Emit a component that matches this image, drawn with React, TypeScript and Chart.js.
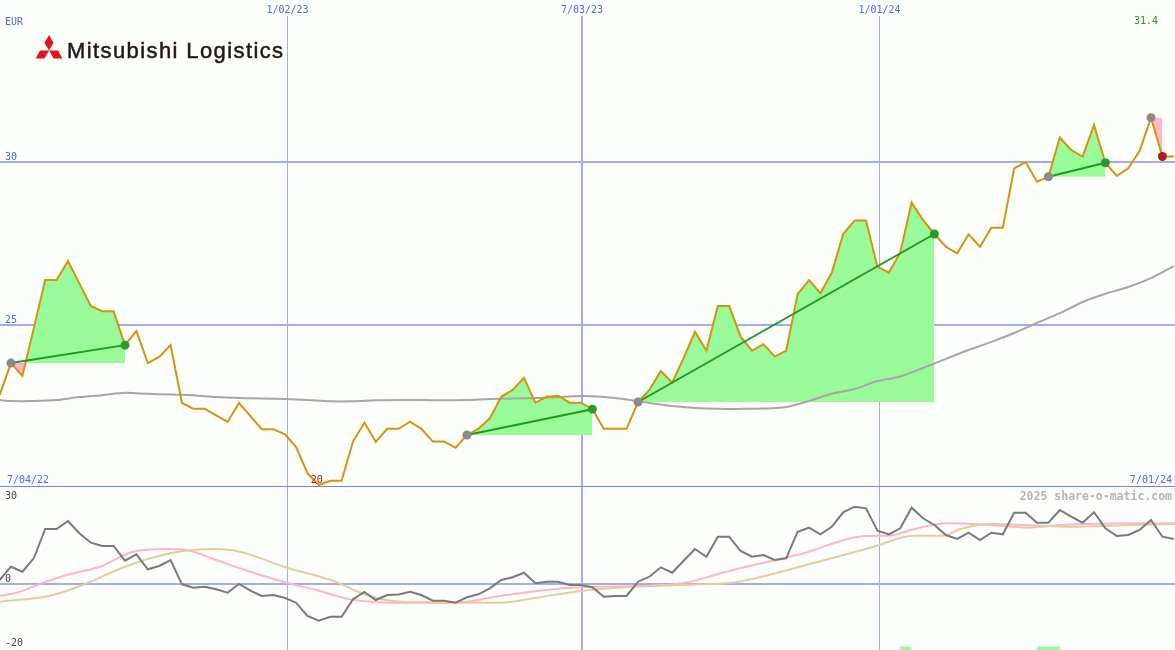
import React, { useEffect, useRef } from 'react';
import { Chart, registerables } from 'chart.js';

Chart.register(...registerables);

// ---------------- data ----------------
const priceFirstWeek = -1;
const priceValues = [
  22.86, 23.84, 23.45, 24.91, 26.38, 26.38, 26.96, 26.28, 25.59, 25.43, // -1..8
  25.43, 24.39, 24.82, 23.84, 24.03, 24.39, 22.62, 22.44, 22.44, 22.24, // 9..18
  22.04, 22.62, 22.22, 21.82, 21.82, 21.67, 21.28, 20.47, 20.11, 20.24, // 19..28
  20.24, 21.44, 22.02, 21.43, 21.83, 21.83, 22.05, 21.83, 21.44, 21.44, // 29..38
  21.25, 21.64, 21.83, 22.15, 22.81, 23.02, 23.39, 22.63, 22.81, 22.84, // 39..48
  22.63, 22.63, 22.43, 21.83, 21.83, 21.83, 22.65, 23.02, 23.6, 23.24,  // 49..58
  23.99, 24.8, 24.22, 25.59, 25.59, 24.65, 24.22, 24.42, 24.04, 24.22,  // 59..68
  25.95, 26.38, 25.98, 26.61, 27.79, 28.2, 28.2, 26.79, 26.61, 27.22,   // 69..78
  28.75, 28.22, 27.79, 27.4, 27.2, 27.78, 27.4, 27.98, 27.98, 29.8,     // 79..88
  29.99, 29.39, 29.54, 30.74, 30.36, 30.16, 31.13, 29.97, 29.57, 29.8,  // 89..98
  30.33, 31.35, 30.16, 30.16,                                           // 99..102
];

const maWeeks = [
  -1, 0, 2, 4, 6, 8, 10, 12, 14, 16, 18, 20, 22, 24, 26, 28, 30, 32, 34, 36, 38, 40, 42, 44, 46, 48,
  50, 52, 54, 56, 58, 60, 62, 64, 66, 68, 70, 72, 74, 76, 78, 80, 82, 84, 86, 88, 90, 92, 94, 96, 98, 100, 102,
];
const maValues = [
  22.71, 22.68, 22.68, 22.71, 22.8, 22.86, 22.93, 22.9, 22.88, 22.86, 22.8, 22.77, 22.76, 22.74, 22.71, 22.67,
  22.67, 22.7, 22.71, 22.71, 22.7, 22.71, 22.74, 22.76, 22.77, 22.8, 22.83, 22.8, 22.73, 22.62, 22.53, 22.47,
  22.44, 22.44, 22.45, 22.5, 22.68, 22.9, 23.05, 23.29, 23.43, 23.69, 23.97, 24.24, 24.49, 24.76, 25.07, 25.37,
  25.71, 25.96, 26.17, 26.44, 26.81,
];

const trendStartWeeks = [0, 40, 55, 91, 100];
const trendEndWeeks = [10, 51, 81, 96, 101];

const momentumValues = [
  1.35, 5.83, 4.15, 8.66, 18.54, 18.54, 21.23, 17.09, 13.92, 12.81,      // -1..8
  12.81, 7.85, 10.01, 4.95, 6.07, 8.09, -0.1, -1.25, -0.91, -1.79,       // 9..18
  -2.93, 0.0, -2.26, -4.04, -3.71, -4.62, -6.3, -10.79, -12.37, -11.02,  // 19..28
  -11.02, -5.16, -2.7, -5.39, -3.71, -3.54, -2.6, -3.71, -5.63, -5.63,   // 29..38
  -6.3, -4.48, -3.47, -1.45, 1.35, 2.26, 3.81, 0.24, 0.78, 0.78,         // 39..48
  -0.34, -0.34, -1.11, -4.28, -4.04, -4.04, 0.78, 2.46, 5.63, 3.81,      // 49..58
  7.85, 11.8, 9.2, 15.94, 15.94, 11.12, 9.2, 9.77, 8.09, 8.66,           // 59..68
  17.63, 18.98, 16.75, 19.31, 24.17, 26.05, 25.51, 17.96, 16.75, 18.77,  // 69..78
  25.72, 22.14, 19.89, 16.51, 15.17, 17.29, 14.83, 17.29, 16.75, 24.03,  // 79..88
  24.03, 20.66, 20.66, 24.94, 22.68, 20.66, 24.17, 18.77, 16.18, 16.51,  // 89..98
  18.2, 21.57, 15.94, 15.17,                                             // 99..102
];

const pinkWeeks = [-1, 0.8, 1.9, 4.9, 7.8, 10.7, 13.7, 15.4, 18, 21, 24.2, 26.8, 29.7, 34.1, 39, 42.9, 46.4, 49.9, 54.6, 58.9, 63.3, 69.2, 75.1, 77.1, 78.9, 82.1, 86.8, 89.1, 92, 98.4, 102.2];
const pinkValues = [-4.04, -2.6, -0.91, 3.03, 5.83, 10.89, 11.8, 11.46, 8.09, 4.15, 0.44, -2.02, -5.16, -6.3, -6.3, -4.04, -2.26, -1.11, -0.67, 0.24, 4.72, 10.01, 16.18, 16.28, 18.2, 20.46, 19.65, 18.98, 19.89, 20.46, 20.46];

const tanWeeks = [-1, 3.4, 6.3, 9.3, 12.2, 15.1, 17.7, 20.1, 23.9, 28.3, 31.2, 34.1, 37, 42.9, 45.8, 50.1, 54.6, 60.4, 63.3, 69.2, 75.9, 79.1, 81.8, 83.2, 85.9, 92.6, 98.4, 102.2];
const tanValues = [-5.97, -3.94, -0.34, 4.72, 8.66, 11.12, 11.8, 10.89, 5.83, 1.01, -3.71, -5.97, -6.17, -6.3, -4.82, -2.26, -0.91, -0.1, 0.44, 5.83, 12.81, 16.28, 16.28, 18.44, 20.22, 19.31, 19.89, 20.22];

const signalStartWeeks = [78, 90];
const signalEndWeeks = [79, 92];
const signalLevel = -21.1;

const xGridWeeks = [24.25, 50.09, 76.18];
const xTickLabels = ['1/02/23', '7/03/23', '1/01/24'];
const rangeLabels = ['7/04/22', '7/01/24'];
const upperYTicks = [25, 30];
const lowerYTicks = [30, 0, -20];
const currencyLabel = 'EUR';
const maxPriceLabel = '31.4';
const minPriceLabel = '20';
const watermark = '2025 share-o-matic.com';
const companyName = 'Mitsubishi Logistics';

// ---------------- styles ----------------
const W = 1175;
const UP_H = 486;
const LOW_H = 164;
const X_MIN = -0.965;
const X_MAX = 102.105;
const UP_Y_MIN = 20.08;
const UP_Y_MAX = 34.46;
const LOW_Y_MIN = -22.24;
const LOW_Y_MAX = 33.03;

const BG = '#fcfefb';
const GRID = '#a3abf3';
const SEP = '#7383f0';
const LABEL_BLUE = '#5463f0';
const FONT = '"DejaVu Sans Mono", monospace';
const PRICE = '#d9920b';
const MA = '#a6a6a6';
const TREND = '#229922';
const DOT_GREEN = '#2a9a2a';
const DOT_GREY = '#8a8a8a';
const DOT_RED = '#b01c1c';
const FILL_GREEN = '#98fa98';
const FILL_PINK = '#ffb8c8';

const priceAt = (w: number) => priceValues[w - priceFirstWeek];

function upperConfig(): any {
  const pricePts = priceValues.map((v, i) => ({ x: priceFirstWeek + i, y: v }));
  const fills = trendStartWeeks.map((s, i) => {
    const e = trendEndWeeks[i];
    return {
      data: pricePts.filter((p) => p.x >= s && p.x <= e),
      borderWidth: 0,
      borderColor: 'transparent',
      pointRadius: 0,
      fill: { target: { value: priceAt(s) }, above: FILL_GREEN, below: FILL_PINK },
      order: 4,
    };
  });
  const trendPts: any[] = [];
  const dotPts: any[] = [];
  const dotColors: string[] = [];
  trendStartWeeks.forEach((s, i) => {
    const e = trendEndWeeks[i];
    const up = priceAt(e) >= priceAt(s);
    if (up) {
      trendPts.push({ x: s, y: priceAt(s) }, { x: e, y: priceAt(e) }, { x: e, y: null });
    }
    dotPts.push({ x: s, y: priceAt(s) });
    dotColors.push(DOT_GREY);
    dotPts.push({ x: e, y: priceAt(e) });
    dotColors.push(up ? DOT_GREEN : DOT_RED);
  });

  const labelPlugin = {
    id: 'upperLabels',
    afterDraw(chart: any) {
      const { ctx } = chart;
      const x = chart.scales.x;
      const y = chart.scales.y;
      ctx.save();
      ctx.font = `10px ${FONT}`;
      ctx.textBaseline = 'alphabetic';
      ctx.fillStyle = LABEL_BLUE;
      ctx.textAlign = 'center';
      xTickLabels.forEach((l, i) => ctx.fillText(l, x.getPixelForValue(xGridWeeks[i]), 13));
      ctx.textAlign = 'left';
      upperYTicks.forEach((v) => ctx.fillText(String(v), 5, y.getPixelForValue(v) - 2));
      ctx.fillText(currencyLabel, 5, 25);
      ctx.fillText(rangeLabels[0], 7, 483);
      ctx.textAlign = 'right';
      ctx.fillText(rangeLabels[1], 1172, 483);
      ctx.fillStyle = '#229922';
      ctx.fillText(maxPriceLabel, 1158, 24);
      let mi = 0;
      priceValues.forEach((v, i) => { if (v < priceValues[mi]) mi = i; });
      ctx.fillStyle = '#a01818';
      ctx.textAlign = 'center';
      ctx.fillText(minPriceLabel, x.getPixelForValue(priceFirstWeek + mi) - 2, y.getPixelForValue(priceValues[mi]) - 2);
      ctx.restore();
    },
  };

  return {
    type: 'line',
    data: {
      datasets: [
        {
          data: dotPts,
          showLine: false,
          pointRadius: 4.5,
          pointBackgroundColor: dotColors,
          pointBorderWidth: 0,
          borderWidth: 0,
          order: 0,
        },
        {
          data: trendPts,
          borderColor: TREND,
          borderWidth: 2,
          pointRadius: 0,
          spanGaps: false,
          fill: false,
          order: 1,
        },
        {
          data: pricePts,
          borderColor: PRICE,
          borderWidth: 2,
          pointRadius: 0,
          fill: false,
          order: 2,
        },
        {
          data: maWeeks.map((w, i) => ({ x: w, y: maValues[i] })),
          borderColor: MA,
          borderWidth: 2,
          pointRadius: 0,
          tension: 0.3,
          fill: false,
          order: 3,
        },
        ...fills,
      ],
    },
    options: {
      animation: false,
      responsive: false,
      devicePixelRatio: 1,
      layout: { autoPadding: false, padding: { top: 16, left: 0, right: 0, bottom: 0 } },
      plugins: { legend: { display: false }, tooltip: { enabled: false } },
      scales: {
        x: {
          type: 'linear',
          min: X_MIN,
          max: X_MAX,
          afterBuildTicks: (s: any) => { s.ticks = xGridWeeks.map((v) => ({ value: v })); },
          afterFit: (s: any) => { s.height = 0; },
          ticks: { display: false },
          grid: { color: GRID, lineWidth: (c: any) => (c.index === 1 ? 2 : 1), drawTicks: false },
          border: { display: false },
        },
        y: {
          type: 'linear',
          min: UP_Y_MIN,
          max: UP_Y_MAX,
          afterBuildTicks: (s: any) => { s.ticks = upperYTicks.map((v) => ({ value: v })); },
          afterFit: (s: any) => { s.width = 0; },
          ticks: { display: false },
          grid: { color: GRID, lineWidth: 2, drawTicks: false },
          border: { display: false },
        },
      },
    },
    plugins: [labelPlugin],
  };
}

function lowerConfig(): any {
  const signals = signalStartWeeks.map((s, i) => ({
    data: [{ x: s, y: signalLevel }, { x: signalEndWeeks[i], y: signalLevel }],
    borderWidth: 0,
    borderColor: 'transparent',
    pointRadius: 0,
    fill: { target: { value: LOW_Y_MIN }, above: FILL_GREEN, below: FILL_GREEN },
    order: 5,
  }));
  const lowerLabelDy = [4, -2, 3];
  const labelPlugin = {
    id: 'lowerLabels',
    afterDraw(chart: any) {
      const { ctx } = chart;
      const y = chart.scales.y;
      ctx.save();
      ctx.font = `10px ${FONT}`;
      ctx.textBaseline = 'alphabetic';
      ctx.fillStyle = '#484848';
      ctx.textAlign = 'left';
      lowerYTicks.forEach((v, i) => ctx.fillText(String(v), 5, y.getPixelForValue(v) + lowerLabelDy[i]));
      ctx.font = `bold 11.5px ${FONT}`;
      ctx.fillStyle = '#b5b5b5';
      ctx.textAlign = 'right';
      ctx.fillText(watermark, 1172, 14);
      ctx.restore();
    },
  };
  return {
    type: 'line',
    data: {
      datasets: [
        {
          data: momentumValues.map((v, i) => ({ x: priceFirstWeek + i, y: v })),
          borderColor: '#7a7a7a',
          borderWidth: 2,
          pointRadius: 0,
          fill: false,
          order: 0,
        },
        {
          data: tanWeeks.map((w, i) => ({ x: w, y: tanValues[i] })),
          borderColor: '#e6cc9c',
          borderWidth: 2,
          pointRadius: 0,
          cubicInterpolationMode: 'monotone',
          fill: false,
          order: 1,
        },
        {
          data: pinkWeeks.map((w, i) => ({ x: w, y: pinkValues[i] })),
          borderColor: '#ffb4c8',
          borderWidth: 2,
          pointRadius: 0,
          cubicInterpolationMode: 'monotone',
          fill: false,
          order: 2,
        },
        ...signals,
      ],
    },
    options: {
      animation: false,
      responsive: false,
      devicePixelRatio: 1,
      layout: { autoPadding: false, padding: 0 },
      plugins: { legend: { display: false }, tooltip: { enabled: false } },
      scales: {
        x: {
          type: 'linear',
          position: 'top',
          min: X_MIN,
          max: X_MAX,
          afterBuildTicks: (s: any) => { s.ticks = xGridWeeks.map((v) => ({ value: v })); },
          afterFit: (s: any) => { s.height = 0; },
          ticks: { display: false },
          grid: { color: GRID, lineWidth: (c: any) => (c.index === 1 ? 2 : 1), drawTicks: false },
          border: { display: true, color: SEP, width: 2 },
        },
        y: {
          type: 'linear',
          min: LOW_Y_MIN,
          max: LOW_Y_MAX,
          afterBuildTicks: (s: any) => { s.ticks = [{ value: 0 }]; },
          afterFit: (s: any) => { s.width = 0; },
          ticks: { display: false },
          grid: { color: GRID, lineWidth: 2, drawTicks: false },
          border: { display: false },
        },
      },
    },
    plugins: [labelPlugin],
  };
}

function Logo() {
  const red = '#e0141e';
  return (
    <div style={{ position: 'absolute', left: 35, top: 35, height: 26 }}>
      <svg width={28} height={24} style={{ position: 'absolute', left: 0, top: 0 }}>
        <polygon points="14,15.6 9.5,7.8 14,0 18.5,7.8" fill={red} />
        <polygon points="14,15.6 5,15.6 0.5,23.4 9.5,23.4" fill={red} />
        <polygon points="14,15.6 23,15.6 27.5,23.4 18.5,23.4" fill={red} />
      </svg>
      <div
        style={{
          position: 'absolute',
          left: 32,
          top: 5,
          whiteSpace: 'nowrap',
          fontFamily: '"Liberation Sans", Arial, sans-serif',
          fontSize: 22,
          lineHeight: '22px',
          letterSpacing: '1.4px',
          color: '#231815',
          WebkitTextStroke: '0.5px #231815',
        }}
      >
        {companyName}
      </div>
    </div>
  );
}

export default function App() {
  const upRef = useRef<HTMLCanvasElement>(null);
  const lowRef = useRef<HTMLCanvasElement>(null);
  useEffect(() => {
    const up = new Chart(upRef.current as HTMLCanvasElement, upperConfig());
    const low = new Chart(lowRef.current as HTMLCanvasElement, lowerConfig());
    return () => {
      up.destroy();
      low.destroy();
    };
  }, []);
  return (
    <div style={{ position: 'fixed', left: 0, top: 0, width: W, height: 650, background: BG, overflow: 'hidden' }}>
      <canvas ref={upRef} width={W} height={UP_H} style={{ position: 'absolute', left: 0, top: 0 }} />
      <canvas ref={lowRef} width={W} height={LOW_H} style={{ position: 'absolute', left: 0, top: 486 }} />
      <Logo />
    </div>
  );
}
